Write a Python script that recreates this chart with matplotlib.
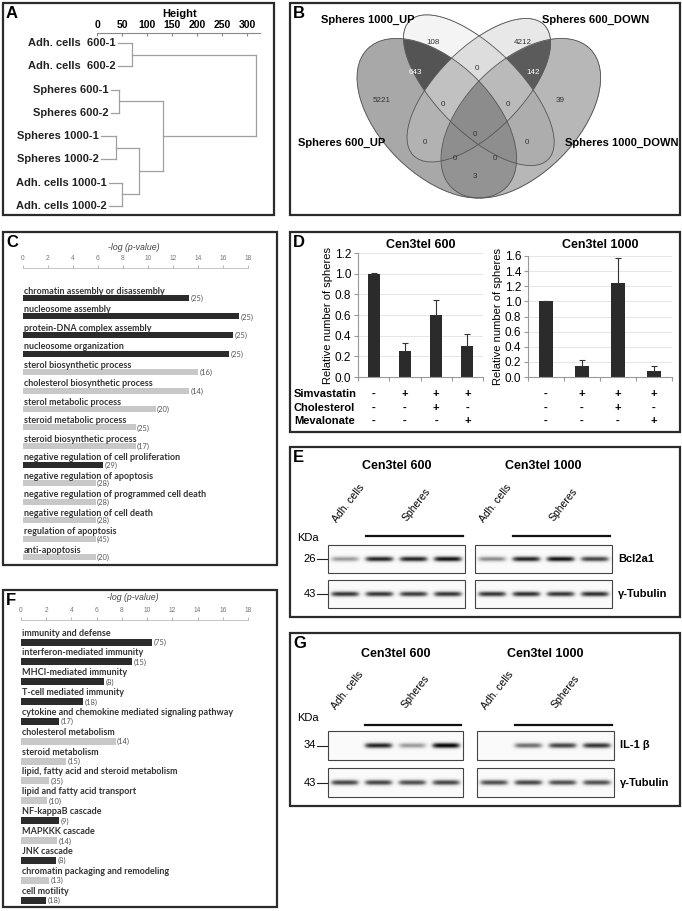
import matplotlib.pyplot as plt
import numpy as np
from matplotlib.patches import Rectangle, Ellipse
from matplotlib.transforms import blended_transform_factory

plt.rcParams['font.family'] = ['Liberation Sans', 'DejaVu Sans']

W, H = 682, 911

# ---- A: clustering of samples
leaf_labels = ['Adh. cells  600-1', 'Adh. cells  600-2', 'Spheres 600-1', 'Spheres 600-2',
               'Spheres 1000-1', 'Spheres 1000-2', 'Adh. cells 1000-1', 'Adh. cells 1000-2']
leaf_start = [41, 41, 27, 27, 7, 7, 23, 23]
merges = [(0, 1, 69), (2, 3, 43), (4, 5, 38), (6, 7, 49), (10, 11, 83), (9, 12, 131), (8, 13, 318)]
height_ticks = [0, 50, 100, 150, 200, 250, 300]

# ---- B: venn of up/down genes
venn_sets = ['Spheres 600_UP', 'Spheres 1000_UP', 'Spheres 600_DOWN', 'Spheres 1000_DOWN']
venn_regions = ['1000', '0100', '0010', '0001', '1100', '0011', '0110', '1110',
                '0111', '1010', '0101', '1111', '1011', '1101', '1001']
venn_counts = [5221, 108, 4212, 39, 643, 142, 0, 0, 0, 0, 0, 0, 0, 0, 3]

# ---- C: GO terms
c_terms = ['chromatin assembly or disassembly', 'nucleosome assembly', 'protein-DNA complex assembly',
           'nucleosome organization', 'sterol biosynthetic process', 'cholesterol biosynthetic process',
           'sterol metabolic process', 'steroid metabolic process', 'steroid biosynthetic process',
           'negative regulation of cell proliferation', 'negative regulation of apoptosis',
           'negative regulation of programmed cell death', 'negative regulation of cell death',
           'regulation of apoptosis', 'anti-apoptosis']
c_values = [13.3, 17.3, 16.8, 16.5, 14.0, 13.3, 10.6, 9.0, 9.0, 6.4, 5.8, 5.8, 5.8, 5.8, 5.8]
c_counts = [25, 25, 25, 25, 16, 14, 20, 25, 17, 29, 28, 28, 28, 45, 20]
c_dark = [1, 1, 1, 1, 0, 0, 0, 0, 0, 1, 0, 0, 0, 0, 0]

# ---- D: sphere counts
d_groups = ['Cen3tel 600', 'Cen3tel 1000']
d_mean = [[1.0, 0.25, 0.60, 0.30], [1.0, 0.15, 1.24, 0.08]]
d_err = [[0.005, 0.08, 0.15, 0.12], [0.005, 0.08, 0.33, 0.065]]
d_ymax = [1.2, 1.6]
treat_rows = ['Simvastatin', 'Cholesterol', 'Mevalonate']
treat_signs = [['-', '+', '+', '+'], ['-', '-', '+', '-'], ['-', '-', '-', '+']]

# ---- E / G: westerns (band intensity per lane)
e_target = [[0.45, 0.85, 0.85, 0.9], [0.5, 0.85, 0.9, 0.75]]
e_tubulin = [[0.8, 0.8, 0.78, 0.8], [0.8, 0.82, 0.8, 0.82]]
g_target = [[0.0, 0.85, 0.45, 0.95], [0.0, 0.6, 0.75, 0.8]]
g_tubulin = [[0.75, 0.75, 0.72, 0.75], [0.72, 0.75, 0.72, 0.72]]

# ---- F: GO terms
f_terms = ['immunity and defense', 'interferon-mediated immunity', 'MHCI-mediated immunity',
           'T-cell mediated immunity', 'cytokine and chemokine mediated signaling pathway',
           'cholesterol metabolism', 'steroid metabolism', 'lipid, fatty acid and steroid metabolism',
           'lipid and fatty acid transport', 'NF-kappaB cascade', 'MAPKKK cascade', 'JNK cascade',
           'chromatin packaging and remodeling', 'cell motility']
f_values = [10.4, 8.8, 6.6, 4.95, 3.0, 7.5, 3.6, 2.2, 2.1, 3.05, 2.85, 2.8, 2.25, 2.0]
f_counts = [75, 15, 8, 18, 17, 14, 15, 35, 10, 9, 14, 8, 13, 18]
f_dark = [1, 1, 1, 1, 1, 0, 0, 0, 0, 1, 0, 1, 0, 1]


def rect(x0, y0, x1, y1):
    return [x0 / W, 1 - y1 / H, (x1 - x0) / W, (y1 - y0) / H]


fig = plt.figure(figsize=(W / 100, H / 100), dpi=100)
canvas = fig.add_axes([0, 0, 1, 1])
canvas.axis('off')

boxes = {'A': (3, 3, 274, 215), 'B': (290, 3, 680, 215), 'C': (3, 232, 277, 565),
         'D': (290, 232, 680, 432), 'E': (290, 447, 680, 617), 'F': (3, 590, 277, 907),
         'G': (290, 633, 680, 806)}
for key, (x0, y0, x1, y1) in boxes.items():
    canvas.add_patch(Rectangle((x0, y0), x1 - x0, y1 - y0, fill=False, lw=1.6, ec='#2b2b2b', zorder=3))
    canvas.text(x0 + 3, y0 + 3, key, fontsize=12, fontweight='bold', va='top', ha='left')

# ---------------- A
axA = fig.add_axes(rect(97, 33, 262, 215))
axA.set_facecolor('none')
node_x = list(leaf_start)
node_y = list(range(len(leaf_labels)))
for l, r, h in merges:
    for c in (l, r):
        axA.plot([node_x[c], h], [node_y[c], node_y[c]], color='#a0a0a0', lw=0.9)
    axA.plot([h, h], [node_y[l], node_y[r]], color='#a0a0a0', lw=0.9)
    node_x.append(h)
    node_y.append((node_y[l] + node_y[r]) / 2)
for i, lab in enumerate(leaf_labels):
    axA.text(leaf_start[i] - 4, i, lab, ha='right', va='center', fontsize=8,
             fontweight='bold', color='#222', clip_on=False)
axA.set_xlim(0, 330)
axA.set_ylim(7.39, -0.43)
axA.xaxis.tick_top()
axA.xaxis.set_label_position('top')
axA.set_xticks(height_ticks)
axA.set_xlabel('Height', fontsize=8, fontweight='bold', labelpad=2)
axA.tick_params(axis='x', direction='in', length=2.5, pad=2, labelsize=7.5, color='#888')
for t in axA.get_xticklabels():
    t.set_fontweight('bold')
axA.set_yticks([])
for s in ['right', 'bottom', 'left']:
    axA.spines[s].set_visible(False)
axA.spines['top'].set_bounds(0, 325)
axA.spines['top'].set_color('#888')
axA.spines['top'].set_linewidth(0.8)

# ---------------- B
ellipses = [(436.8, 118.2, 98, 56, 45), (478.8, 90.2, 98, 42, 45),
            (478.8, 90.2, 92.4, 42, -45), (520.8, 118.2, 98, 56, -45)]
region_gray = [0.66, 0.96, 0.91, 0.72, 0.33, 0.36, 0.87, 0.76, 0.73, 0.70, 0.68, 0.55, 0.56, 0.56, 0.58]
region_xy = [(382, 100), (433, 42), (523, 42), (560, 100), (415, 72), (533, 72), (477, 68),
             (443, 105), (508, 105), (425, 142), (527, 142), (475, 135), (455, 159), (495, 159), (475, 177)]
set_xy = [(342, 143), (368, 20), (596, 20), (622, 143)]

gx = np.arange(340, 620, 1 / 3)
gy = np.arange(8, 210, 1 / 3)
X, Y = np.meshgrid(gx, gy)
inside = []
for cx, cy, a, b, ang in ellipses:
    t = np.deg2rad(ang)
    dx, dy = X - cx, Y - cy
    u = dx * np.cos(t) + dy * np.sin(t)
    v = -dx * np.sin(t) + dy * np.cos(t)
    inside.append((u / a) ** 2 + (v / b) ** 2 <= 1)
img = np.zeros(X.shape + (4,))
for code, g in zip(venn_regions, region_gray):
    m = np.ones(X.shape, bool)
    for k, ch in enumerate(code):
        m &= inside[k] if ch == '1' else ~inside[k]
    img[m] = [g, g, g, 1]
canvas.imshow(img, extent=(gx[0], gx[-1], gy[-1], gy[0]), aspect='auto', interpolation='bilinear', zorder=1)
for cx, cy, a, b, ang in ellipses:
    canvas.add_patch(Ellipse((cx, cy), 2 * a, 2 * b, angle=ang, fill=False, ec='#555', lw=0.6, zorder=2))
for (x, y), n, code in zip(region_xy, venn_counts, venn_regions):
    col = 'white' if code in ('1100', '0011') else '#333'
    canvas.text(x, y, str(n), ha='center', va='center', fontsize=5.8, color=col, zorder=4)
for (x, y), name in zip(set_xy, venn_sets):
    canvas.text(x, y, name, ha='center', va='center', fontsize=8, fontweight='bold', zorder=4)


# ---------------- C / F
def go_chart(box, terms, values, counts, dark, first, step, lab_off, bar_h, title_y):
    x0, y0, x1, y1 = box
    ax = fig.add_axes(rect(x0, y0, x1, y1))
    ax.set_facecolor('none')
    ys = first + step * np.arange(len(terms))
    colors = ['#2b2b2b' if d else '#c8c8c8' for d in dark]
    ax.barh(ys, values, height=bar_h, color=colors)
    for y, term, v, n in zip(ys, terms, values, counts):
        ax.text(0.05, y - lab_off, term, ha='left', va='center', fontsize=6.5,
                family='Lato', fontweight='bold', color='#333')
        ax.text(v + 0.12, y + 0.5, '(%d)' % n, ha='left', va='center', fontsize=5.4,
                family='Lato', color='#555')
    ax.set_xlim(0, 18)
    ax.set_ylim(y1, y0)
    ax.xaxis.tick_top()
    ax.set_xticks(range(0, 19, 2))
    ax.tick_params(axis='x', length=2, pad=2, labelsize=4.8, color='#bbb', labelcolor='#777')
    ax.set_yticks([])
    for s in ['right', 'bottom', 'left']:
        ax.spines[s].set_visible(False)
    ax.spines['top'].set_color('#bbb')
    ax.spines['top'].set_linewidth(0.6)
    canvas.text((x0 + x1) / 2 - 2, title_y, '-log (p-value)', ha='center', va='center',
                fontsize=6.3, style='italic', color='#444')


go_chart((23, 268, 248, 565), c_terms, c_values, c_counts, c_dark, 298, 18.5, 6.8, 6, 247)
go_chart((21, 620, 248, 907), f_terms, f_values, f_counts, f_dark, 642, 19.85, 9, 7, 597)

# ---------------- D
d_rects = [(358, 253, 483, 377), (528, 256, 672, 377)]
row_y = [394, 408, 421]
for gi in range(2):
    ax = fig.add_axes(rect(*d_rects[gi]))
    ax.set_facecolor('none')
    xs = np.arange(4)
    ax.bar(xs, d_mean[gi], width=0.38, color='#2b2b2b', zorder=2)
    ax.errorbar(xs, d_mean[gi], yerr=[np.zeros(4), d_err[gi]], fmt='none', ecolor='#333',
                elinewidth=0.8, capsize=2.2, capthick=0.8, zorder=3)
    ax.set_xlim(-0.5, 3.5)
    ax.set_ylim(0, d_ymax[gi])
    ticks = np.arange(0, d_ymax[gi] + 0.01, 0.2)
    ax.set_yticks(ticks)
    ax.set_yticklabels(['%.1f' % t for t in ticks])
    ax.yaxis.grid(True, color='#e2e2e2', lw=0.6)
    ax.set_axisbelow(True)
    ax.set_xticks(np.arange(-0.5, 4, 1))
    ax.set_xticklabels([])
    ax.tick_params(axis='x', direction='out', length=3, color='#999')
    ax.tick_params(axis='y', direction='out', length=3, color='#999', labelsize=8.5, pad=2)
    for s in ['right', 'top']:
        ax.spines[s].set_visible(False)
    for s in ['left', 'bottom']:
        ax.spines[s].set_color('#999')
        ax.spines[s].set_linewidth(0.8)
    x0, y0, x1, y1 = d_rects[gi]
    canvas.text((x0 + x1) / 2, 245, d_groups[gi], ha='center', va='center', fontsize=9, fontweight='bold')
    canvas.text(x0 - 30, (y0 + y1) / 2, 'Relative number of spheres', rotation=90,
                ha='center', va='center', fontsize=8)
    tr = blended_transform_factory(ax.transData, canvas.transData)
    for r, yy in enumerate(row_y):
        for c in range(4):
            ax.text(c, yy, treat_signs[r][c], transform=tr, ha='center', va='center',
                    fontsize=8, fontweight='bold')
for r, yy in enumerate(row_y):
    canvas.text(294, yy, treat_rows[r], ha='left', va='center', fontsize=8, fontweight='bold')


# ---------------- E / G
def draw_blot(x0, x1, y0, y1, levels, sigma):
    nx, ny = int((x1 - x0) * 3), int((y1 - y0) * 3)
    lane = (np.arange(nx) + 0.5) / nx * len(levels)
    rel = (np.arange(ny) + 0.5) / ny - 0.5
    im = np.full((ny, nx), 0.04)
    for i, lv in enumerate(levels):
        im += lv * np.outer(np.exp(-(rel / sigma) ** 2), np.exp(-((lane - i - 0.5) / 0.42) ** 6))
    canvas.imshow(np.clip(im, 0, 1), extent=(x0, x1, y1, y0), cmap='Greys', vmin=0, vmax=1,
                  aspect='auto', interpolation='bilinear', zorder=1)
    canvas.add_patch(Rectangle((x0, y0), x1 - x0, y1 - y0, fill=False, lw=0.8, ec='#444', zorder=2))


def western(panels_x, rows_y, data, names, markers, title_y, line_y, label_y, kda_y):
    for pi, (x0, x1) in enumerate(panels_x):
        for ri, (y0, y1) in enumerate(rows_y):
            draw_blot(x0, x1, y0, y1, data[ri][pi], 0.1)
        lane_w = (x1 - x0) / 4
        canvas.text((x0 + x1) / 2, title_y, d_groups[pi], ha='center', va='center',
                    fontsize=9, fontweight='bold')
        canvas.plot([x0 + lane_w * 1.1, x1 - 2], [line_y, line_y], color='#111', lw=1.6)
        canvas.text(x0 + lane_w * 0.5 + 3, label_y, 'Adh. cells', rotation=52, ha='center',
                    va='center', fontsize=7.5)
        canvas.text(x0 + lane_w * 2.5 + 3, label_y + 2, 'Spheres', rotation=52, ha='center',
                    va='center', fontsize=7.5)
    for ri, (y0, y1) in enumerate(rows_y):
        ym = (y0 + y1) / 2
        canvas.text(panels_x[1][1] + 6, ym, names[ri], ha='left', va='center', fontsize=8, fontweight='bold')
        canvas.text(316, ym, markers[ri], ha='right', va='center', fontsize=8)
        canvas.plot([317, 327], [ym, ym], color='#222', lw=0.8)
    canvas.text(297, kda_y, 'KDa', ha='left', va='center', fontsize=8)


western([(328, 465), (475, 612)], [(545, 573), (580, 608)], [e_target, e_tubulin],
        ['Bcl2a1', 'γ-Tubulin'], ['26', '43'], 466, 536, 503, 538)
western([(328, 463), (477, 614)], [(731, 760), (768, 797)], [g_target, g_tubulin],
        ['IL-1 β', 'γ-Tubulin'], ['34', '43'], 654, 725, 690, 718)

canvas.set_xlim(0, W)
canvas.set_ylim(H, 0)
fig.savefig('out.png', dpi=100)
